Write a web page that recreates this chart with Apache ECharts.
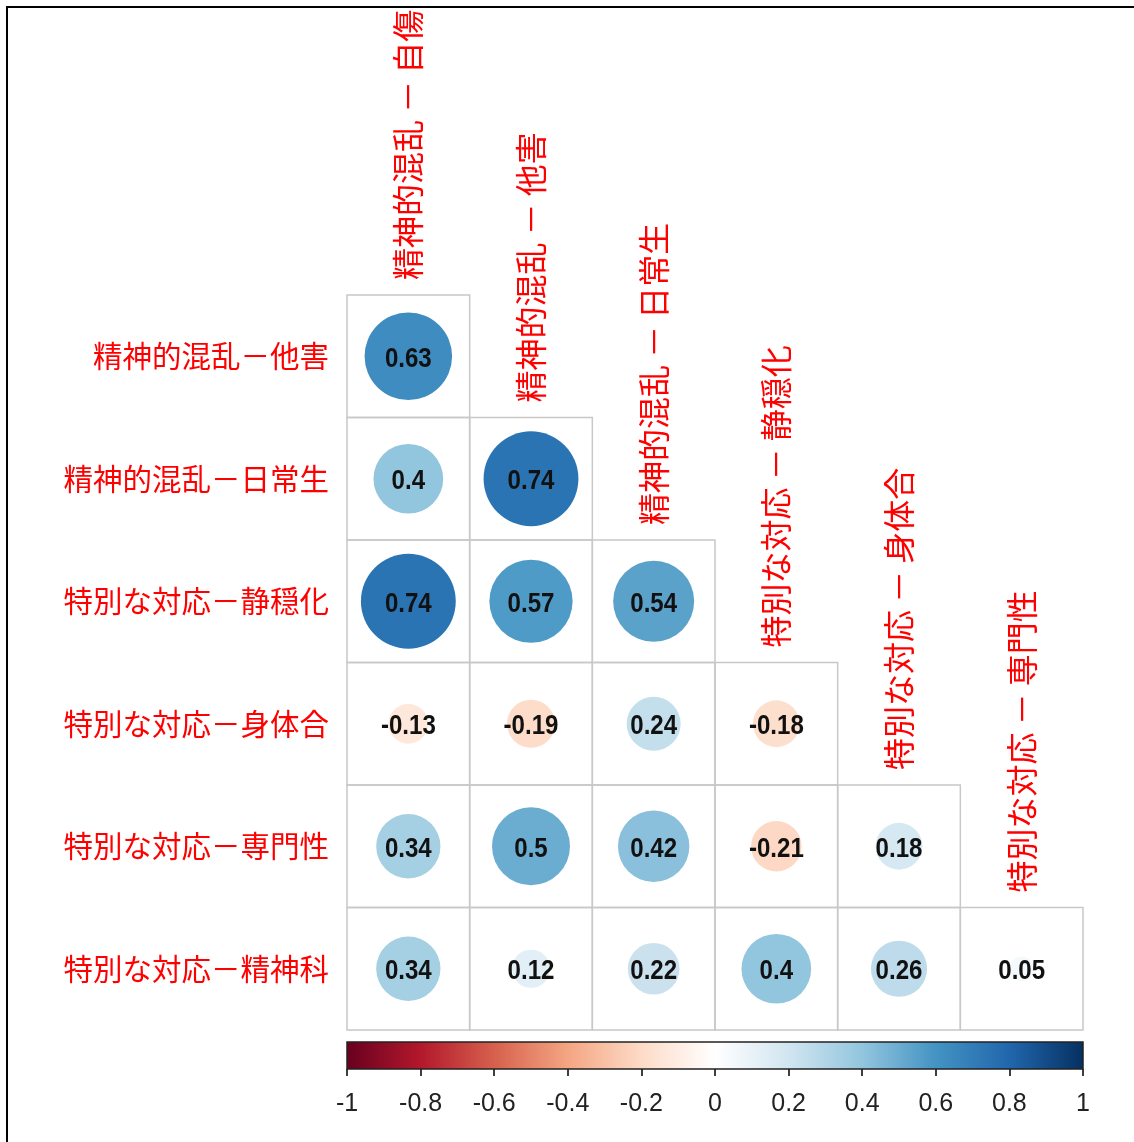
<!DOCTYPE html>
<html>
<head>
<meta charset="utf-8">
<script src="https://cdn.jsdelivr.net/npm/echarts@6/dist/echarts.min.js"></script>
<style>
html,body{margin:0;padding:0;background:#fff;}
#chart{width:1134px;height:1142px;}
</style>
</head>
<body>
<div id="chart"></div>
<script>
// ---- data ----
const rowLabels = ['精神的混乱－他害','精神的混乱－日常生','特別な対応－静穏化','特別な対応－身体合','特別な対応－専門性','特別な対応－精神科'];
const colLabels = ['精神的混乱 － 自傷','精神的混乱 － 他害','精神的混乱 － 日常生','特別な対応 － 静穏化','特別な対応 － 身体合','特別な対応 － 専門性'];
const row1 = [0.63];
const row2 = [0.4, 0.74];
const row3 = [0.74, 0.57, 0.54];
const row4 = [-0.13, -0.19, 0.24, -0.18];
const row5 = [0.34, 0.5, 0.42, -0.21, 0.18];
const row6 = [0.34, 0.12, 0.22, 0.4, 0.26, 0.05];
const corrRows = [row1, row2, row3, row4, row5, row6];
const colorbarMin = -1, colorbarMax = 1, colorbarStep = 0.2;

// ---- styling ----
const palette = ['#67001F','#B2182B','#D6604D','#F4A582','#FDDBC7','#FFFFFF','#D1E5F0','#92C5DE','#4393C3','#2166AC','#053061'];
function hex2rgb(h){return [parseInt(h.substr(1,2),16),parseInt(h.substr(3,2),16),parseInt(h.substr(5,2),16)];}
function colorOf(v){
  let t = (v+1)/2*(palette.length-1);
  let i = Math.min(Math.floor(t), palette.length-2);
  let f = t - i;
  const a = hex2rgb(palette[i]), b = hex2rgb(palette[i+1]);
  const c = a.map((x,k)=>Math.round(x+(b[k]-x)*f));
  return 'rgb('+c.join(',')+')';
}

const cellData = [];
corrRows.forEach((row,i)=>row.forEach((v,j)=>cellData.push([j,i,v])));
const diagData = colLabels.map((l,j)=>[j,j,l]);

const chart = echarts.init(document.getElementById('chart'), null, {renderer:'canvas'});
chart.setOption({
  backgroundColor:'#fff',
  animation:false,
  graphic:[
    {type:'polyline', shape:{points:[[7,1142],[7,7],[1134,7]]}, style:{stroke:'#000', lineWidth:2, fill:null}}
  ],
  grid:[
    {left:347, top:295, width:736, height:735},
    {left:347, top:1042, width:736, height:27}
  ],
  xAxis:[
    {gridIndex:0, type:'category', data:colLabels, show:false},
    {gridIndex:1, type:'value', min:colorbarMin, max:colorbarMax, interval:colorbarStep,
     axisLine:{show:false}, splitLine:{show:false},
     axisTick:{show:true, length:7, lineStyle:{color:'#000', width:1.5}},
     axisLabel:{margin:23, color:'#222', fontSize:25, fontFamily:"'Liberation Sans Narrow','Arial Narrow','Liberation Sans',sans-serif",
       formatter:function(v){return String(Math.round(v*10)/10);}}}
  ],
  yAxis:[
    {gridIndex:0, type:'category', data:rowLabels, inverse:true,
     axisLine:{show:false}, axisTick:{show:false}, splitLine:{show:false},
     axisLabel:{margin:18, color:'#ff0000', fontSize:29.5, padding:[5,0,0,0], fontFamily:"'Noto Sans CJK JP',sans-serif"}},
    {gridIndex:1, type:'value', min:0, max:1, show:false}
  ],
  series:[
    {
      type:'custom', xAxisIndex:0, yAxisIndex:0, data:cellData,
      renderItem:function(params, api){
        const c=api.value(0), r=api.value(1), v=api.value(2);
        const p=api.coord([c,r]); const s=api.size([1,1]);
        const w=s[0], h=s[1];
        return {type:'group', children:[
          {type:'rect', shape:{x:p[0]-w/2, y:p[1]-h/2, width:w, height:h}, style:{fill:null, stroke:'#c8c8c8', lineWidth:1.5}},
          {type:'circle', shape:{cx:p[0], cy:p[1], r:0.45*Math.sqrt(Math.abs(v))*Math.min(w,h)}, style:{fill:colorOf(v)}},
          {type:'text', x:p[0], y:p[1]+3, scaleX:0.86, style:{text:String(v), align:'center', verticalAlign:'middle',
            fontSize:28, fontWeight:'bold', fontFamily:"'Liberation Sans','Arial',sans-serif", fill:'#111'}}
        ]};
      }
    },
    {
      type:'custom', xAxisIndex:0, yAxisIndex:0, data:diagData,
      renderItem:function(params, api){
        const j=api.value(0);
        const p=api.coord([j,j]); const s=api.size([1,1]);
        return {type:'text', x:p[0], y:p[1]-s[1]/2-15, rotation:Math.PI/2,
          style:{text:colLabels[j], align:'left', verticalAlign:'middle', fontSize:32,
            fontFamily:"'Noto Sans CJK JP',sans-serif", fill:'#ff0000'}};
      }
    },
    {
      type:'custom', xAxisIndex:1, yAxisIndex:1, data:[[colorbarMin, colorbarMax]],
      renderItem:function(params, api){
        const p0=api.coord([api.value(0),1]); const p1=api.coord([api.value(1),0]);
        const stops = palette.map((c,i)=>({offset:i/(palette.length-1), color:c}));
        return {type:'rect', shape:{x:p0[0], y:p0[1], width:p1[0]-p0[0], height:p1[1]-p0[1]},
          style:{fill:new echarts.graphic.LinearGradient(0,0,1,0,stops), stroke:'#222', lineWidth:1.5}};
      }
    }
  ]
});
</script>
</body>
</html>
